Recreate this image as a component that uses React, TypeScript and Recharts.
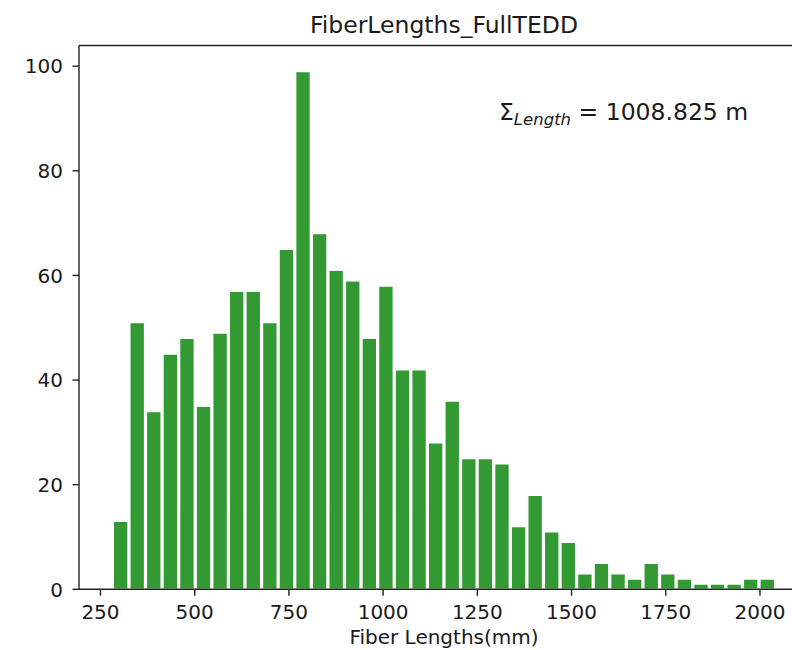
import { BarChart, Bar, XAxis, YAxis } from "recharts";

// histogram counts per bin (40 bins)
const FIBER_COUNTS = [
  13, 51, 34, 45, 48, 35, 49, 57, 57, 51,
  65, 99, 68, 61, 59, 48, 58, 42, 42, 28,
  36, 25, 25, 24, 12, 18, 11, 9, 3, 5,
  3, 2, 5, 3, 2, 1, 1, 1, 2, 2,
];
const BIN_START = 281; // mm, left edge of first bin
const BIN_WIDTH = 44; // mm
const X_TICKS = [250, 500, 750, 1000, 1250, 1500, 1750, 2000];
const Y_TICKS = [0, 20, 40, 60, 80, 100];
// the right spine sits just past the picture's edge, so the visible range stops short of it
const X_DOMAIN = [193, 2085];
const Y_DOMAIN = [0, 103.95];

const TITLE = "FiberLengths_FullTEDD";
const X_LABEL = "Fiber Lengths(mm)";
const TOTAL_LENGTH = "1008.825 m";

const C = { bar: "#339933", axis: "#222222", text: "#1a1a1a" };
const FONT = "'DejaVu Sans', sans-serif";

const W = 792;
const H = 650;
// the axes take 1px each, the rest goes in the margin
const M = { top: 45.5, right: 0, bottom: 59.7, left: 78 };
const PLOT_W = W - M.left - 1 - M.right;
const BAR_PX = (BIN_WIDTH * PLOT_W) / (X_DOMAIN[1] - X_DOMAIN[0]);

const data = FIBER_COUNTS.map((count, i) => ({
  mid: BIN_START + BIN_WIDTH * (i + 0.5),
  count,
}));

function XTick({ x, y, payload }: any) {
  return (
    <text x={x} y={y} dy={21.5} textAnchor="middle" fill={C.text} fontSize={20} fontFamily={FONT}>
      {payload.value}
    </text>
  );
}

function YTick({ x, y, payload }: any) {
  return (
    <text x={x} y={y} dx={-7.5} dy={7.2} textAnchor="end" fill={C.text} fontSize={20} fontFamily={FONT}>
      {payload.value}
    </text>
  );
}

export default function App() {
  return (
    <div style={{ position: "absolute", left: 0, top: 0, width: W, height: H, overflow: "hidden", background: "#fff" }}>
      <style>{"html, body { overflow: hidden; }"}</style>
      <BarChart width={W} height={H} data={data} margin={M}>
        <XAxis
          dataKey="mid"
          type="number"
          domain={X_DOMAIN}
          ticks={X_TICKS}
          interval={0}
          allowDataOverflow
          height={1}
          tick={<XTick />}
          tickSize={6.5}
          axisLine={{ stroke: C.axis, strokeWidth: 1.4 }}
          tickLine={{ stroke: C.axis, strokeWidth: 1.4 }}
        />
        <YAxis
          type="number"
          domain={Y_DOMAIN}
          ticks={Y_TICKS}
          interval={0}
          allowDataOverflow
          width={1}
          tick={<YTick />}
          tickSize={6.5}
          axisLine={{ stroke: C.axis, strokeWidth: 1.4 }}
          tickLine={{ stroke: C.axis, strokeWidth: 1.4 }}
        />
        <Bar dataKey="count" fill={C.bar} stroke="#ffffff" strokeWidth={1.6} barSize={BAR_PX} isAnimationActive={false} />
        {/* top spine */}
        <line x1={M.left + 1} x2={W} y1={M.top} y2={M.top} stroke={C.axis} strokeWidth={1.4} />
        <text x={444} y={33} textAnchor="middle" fill={C.text} fontSize={23.5} fontFamily={FONT}>
          {TITLE}
        </text>
        <text x={499} y={120} fill={C.text} fontSize={23.5} fontFamily={FONT}>
          Σ
          <tspan fontSize={16.5} fontStyle="italic" dy={5}>Length</tspan>
          <tspan dy={-5}>{` = ${TOTAL_LENGTH}`}</tspan>
        </text>
        <text x={444} y={644} textAnchor="middle" fill={C.text} fontSize={20} fontFamily={FONT}>
          {X_LABEL}
        </text>
      </BarChart>
    </div>
  );
}
